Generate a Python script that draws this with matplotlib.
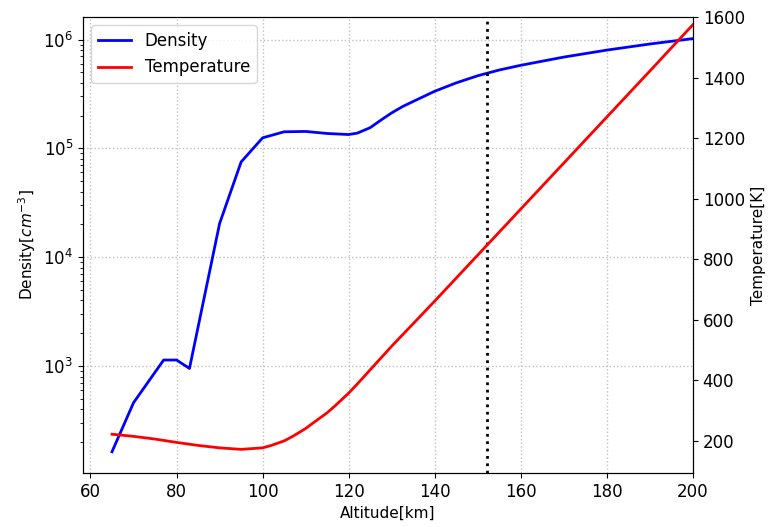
import numpy as np
from matplotlib import pyplot as plt

# altitude grid and profiles
alt_dens = [65, 70, 77, 80, 83, 90, 95, 100, 105, 110, 115, 120, 122, 125,
            127.5, 130, 132.5, 135, 140, 145, 150, 155, 160, 170, 180, 190, 200]
density = [163, 460, 1135, 1135, 950, 20400, 75000, 125000, 142000, 143000,
           137000, 134000, 138000, 155000, 182000, 212000, 242000, 270000,
           335000, 400000, 465000, 525000, 580000, 690000, 800000, 910000,
           1020000]

alt_temp = [65, 70, 75, 80, 85, 90, 95, 100, 102, 105, 107, 110, 112, 115,
            117, 120, 122, 125, 130, 140, 150, 160, 170, 180, 190, 200]
temperature = [222, 215, 206, 195, 185, 177, 172, 177, 185, 200, 215, 241,
               262, 293, 318, 358, 388, 435, 513, 662, 814, 966, 1118, 1270,
               1422, 1575]

marker_alt = 152.2

fig = plt.figure(figsize=(7.79, 5.27), dpi=100)
ax1 = fig.add_axes([0.1065, 0.1025, 0.7831, 0.8652])
ax2 = ax1.twinx()

l1, = ax1.plot(alt_dens, density, color='blue', lw=2, label='Density')
l2, = ax2.plot(alt_temp, temperature, color='red', lw=2, label='Temperature')
ax1.axvline(marker_alt, color='black', ls=':', lw=2)

ax1.set_yscale('log')
ax1.set_xlim(58.25, 200)
ax1.set_ylim(104, 1.61e6)
ax2.set_ylim(94, 1600)
ax2.set_yticks([200, 400, 600, 800, 1000, 1200, 1400, 1600])

ax1.grid(True, ls=':', color='#c0c0c0', lw=1)

ax1.set_xlabel('Altitude[km]', fontsize=11)
ax1.set_ylabel('Density[$cm^{-3}$]', fontsize=11)
ax2.set_ylabel('Temperature[K]', fontsize=11)
ax1.tick_params(labelsize=12)
ax2.tick_params(labelsize=12)

ax1.legend([l1, l2], ['Density', 'Temperature'], loc='upper left', fontsize=12)

fig.savefig('out.png', dpi=100)
